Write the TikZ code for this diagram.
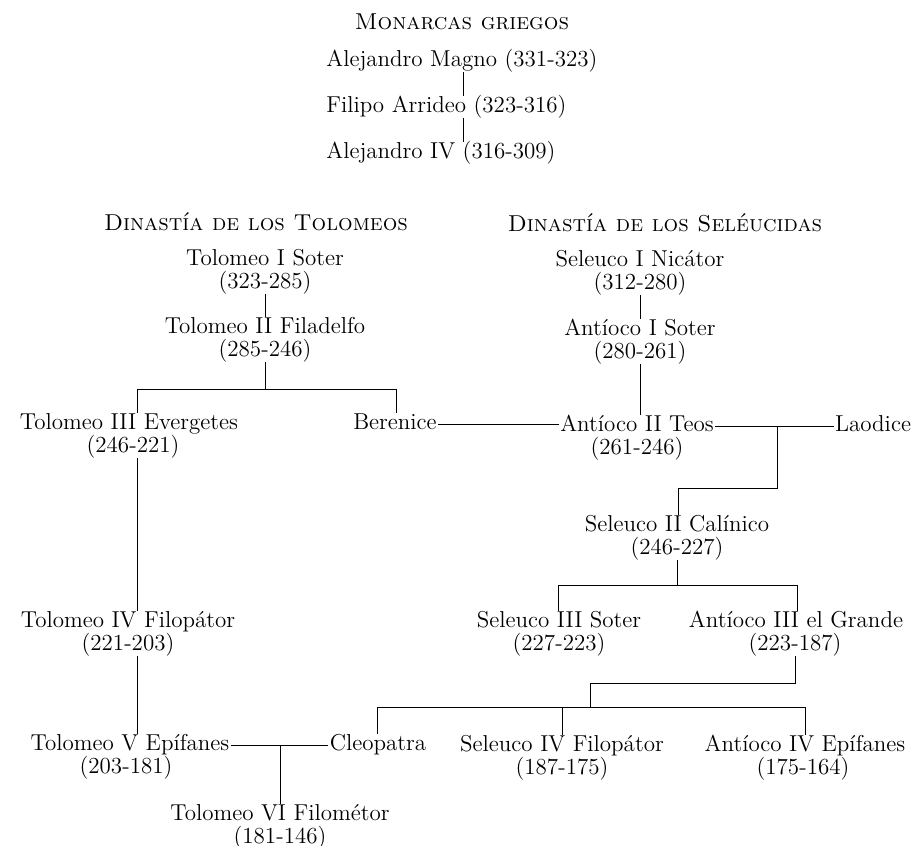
\documentclass[tikz,border=0pt]{standalone}
\usepackage{fontspec}
\usepackage{tikz}

\tikzset{
  nm/.style={font=\fontsize{11.5}{13}\selectfont, inner sep=0.5pt, text height=0.72em, text depth=0.22em},
  dt/.style={nm},
  hd/.style={font=\fontsize{11.5}{13}\selectfont\scshape, inner sep=0.5pt},
  ln/.style={line width=0.5pt}
}

\begin{document}
\begin{tikzpicture}[x=0.5pt, y=-0.5pt]
\useasboundingbox (0,0) rectangle (911,846); % feste Bildgroesse

% Monarcas griegos
\node[hd] (hg) at (462,22) {Monarcas griegos};
\node[nm, anchor=west] (am) at (325,61) {Alejandro Magno (331-323)};
\node[nm, anchor=west] (fa) at (325,107) {Filipo Arrideo (323-316)};
\node[nm, anchor=west] (aiv) at (325,153) {Alejandro IV (316-309)};
\coordinate (gx) at (463,0);
\draw[ln] (am.south -| gx) -- (fa.north -| gx);
\draw[ln] (fa.south -| gx) -- (aiv.north -| gx);

% Tolomeos
\node[hd] (ht) at (256,222) {Dinastía de los Tolomeos};
\node[nm] (t1) at (265,260) {Tolomeo I Soter};
\node[dt] (t1d) at (265,283) {(323-285)};
\node[nm] (t2) at (265,328) {Tolomeo II Filadelfo};
\node[dt] (t2d) at (265,351) {(285-246)};
\node[nm] (t3) at (129,424) {Tolomeo III Evergetes};
\node[dt] (t3d) at (133,447) {(246-221)};
\node[nm] (ber) at (395,424) {Berenice};
\node[nm] (t4) at (128,622) {Tolomeo IV Filopátor};
\node[dt] (t4d) at (128,645) {(221-203)};
\node[nm] (t5) at (130,745) {Tolomeo V Epífanes};
\node[dt] (t5d) at (126,768) {(203-181)};
\node[nm] (cleo) at (378,745) {Cleopatra};
\node[nm] (t6) at (280,815) {Tolomeo VI Filométor};
\node[dt] (t6d) at (280,838) {(181-146)};

% Seleucidas
\node[hd] (hs) at (665,223) {Dinastía de los Seléucidas};
\node[nm] (s1) at (640,261) {Seleuco I Nicátor};
\node[dt] (s1d) at (640,284) {(312-280)};
\node[nm] (a1) at (640,330) {Antíoco I Soter};
\node[dt] (a1d) at (640,353) {(280-261)};
\node[nm] (a2) at (637,426) {Antíoco II Teos};
\node[dt] (a2d) at (637,449) {(261-246)};
\node[nm] (lao) at (873,426) {Laodice};
\node[nm] (s2) at (677,526) {Seleuco II Calínico};
\node[dt] (s2d) at (677,549) {(246-227)};
\node[nm] (s3) at (559,622) {Seleuco III Soter};
\node[dt] (s3d) at (559,645) {(227-223)};
\node[nm] (a3) at (796,622) {Antíoco III el Grande};
\node[dt] (a3d) at (795,645) {(223-187)};
\node[nm] (s4) at (562,746) {Seleuco IV Filopátor};
\node[dt] (s4d) at (562,769) {(187-175)};
\node[nm] (a4) at (805,746) {Antíoco IV Epífanes};
\node[dt] (a4d) at (803,769) {(175-164)};

% Linien Tolomeos
\coordinate (tl) at (137,389);
\coordinate (tr) at (396,389);
\draw[ln] (t1d.south) -- (t2.north);
\draw[ln] (t2d.south) -- (t2d.south |- tl);
\draw[ln] (tl |- t3.north) -- (tl) -- (tr) -- (tr |- ber.north);
\draw[ln] (tl |- t3d.south) -- (tl |- t4.north);
\draw[ln] (tl |- t4d.south) -- (tl |- t5.north);
\draw[ln] (t5.east) -- (t5.east -| cleo.west);
\draw[ln] (t6.north) -- (t6.north |- t5.east);

% Linien Seleucidas
\coordinate (lr) at (777,488);
\coordinate (ll) at (678,488);
\coordinate (gl) at (558,585);
\coordinate (gr) at (797,585);
\coordinate (ar) at (795,683);
\coordinate (am2) at (590,683);
\coordinate (hl) at (377,707);
\coordinate (hr) at (805,707);
\draw[ln] (ber.east) -- (ber.east -| a2.west);
\draw[ln] (a2.east) -- (a2.east -| lao.west);
\draw[ln] (s1d.south) -- (s1d.south |- a1.north);
\draw[ln] (a1d.south) -- (a1d.south |- a2.north);
\draw[ln] (lr |- lao.west) -- (lr) -- (ll) -- (ll |- s2.north);
\draw[ln] (s2d.south) -- (s2d.south |- gl);
\draw[ln] (gl |- s3.north) -- (gl) -- (gr) -- (gr |- a3.north);
\draw[ln] (a3d.south) -- (ar) -- (am2) -- (am2 |- hl);
\draw[ln] (hl |- cleo.north) -- (hl) -- (hr) -- (hr |- a4.north);
\draw[ln] (s4.north) -- (s4.north |- hl);
\end{tikzpicture}
\end{document}
